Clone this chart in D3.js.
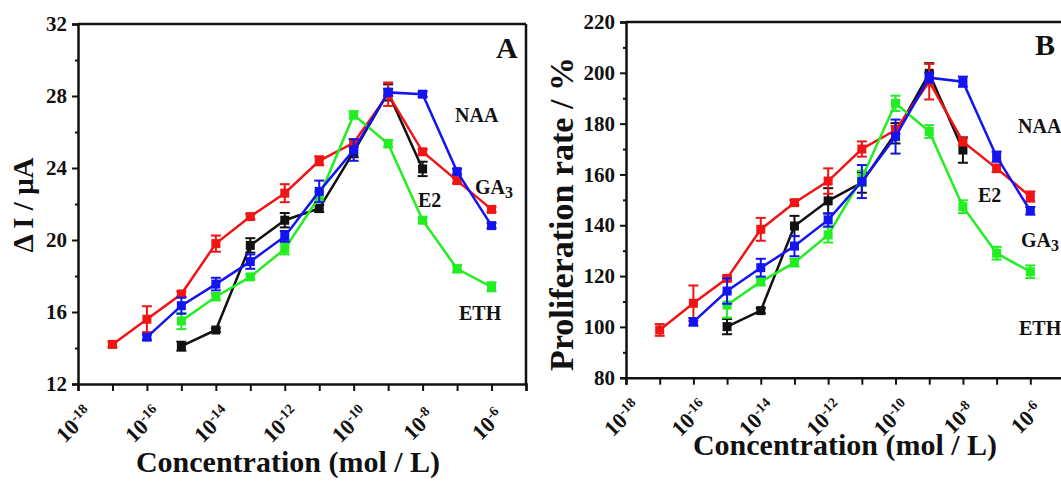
<!DOCTYPE html>
<html>
<head>
<meta charset="utf-8">
<script src="https://cdn.jsdelivr.net/npm/d3@7"></script>
<style>
  body { margin: 0; background: #fff; }
  svg { display: block; }
  text { font-family: "Liberation Serif", "Times New Roman", serif; font-weight: bold; fill: #111; }
</style>
</head>
<body>
<div id="chart"></div>
<script>
// concentration exponents (mol / L) of the measured points
var exps = [-17, -16, -15, -14, -13, -12, -11, -10, -9, -8, -7, -6];
var tickExps = d3.range(-18, -4);
var seriesNames = ["E2", "GA3", "ETH", "NAA"];
var colors = {E2: "#111111", GA3: "#f01414", ETH: "#22ee22", NAA: "#1414f0"};

// panel A : delta I (uA)
var aE2   = [null, null, 14.1, 15.0, 19.7, 21.1, 21.75, 24.9, 28.2, 23.95, null, null];
var aE2e  = [null, null, 0.25, 0.1, 0.4, 0.4, 0.2, 0.3, 0.45, 0.4, null, null];
var aGA3  = [14.2, 15.6, 17.0, 19.8, 21.3, 22.6, 24.4, 25.4, 28.1, 24.9, 23.3, 21.7];
var aGA3e = [0.15, 0.72, 0.15, 0.45, 0.15, 0.5, 0.25, 0.2, 0.65, 0.15, 0.15, 0.15];
var aETH  = [null, null, 15.5, 16.85, 17.95, 19.5, 22.4, 26.95, 25.35, 21.1, 18.4, 17.4];
var aETHe = [null, null, 0.45, 0.2, 0.15, 0.3, 0.3, 0.2, 0.2, 0.15, 0.2, 0.25];
var aNAA  = [null, 14.6, 16.35, 17.55, 18.8, 20.2, 22.7, 25.0, 28.2, 28.1, 23.8, 20.8];
var aNAAe = [null, 0.15, 0.45, 0.35, 0.4, 0.3, 0.6, 0.6, 0.2, 0.15, 0.15, 0.15];

// panel B : proliferation rate (%)
var bE2   = [null, null, 100.1, 106.4, 139.7, 149.6, 156.8, 176.2, 199.8, 169.6, null, null];
var bE2e  = [null, null, 3, 1, 4, 5, 4, 4, 4, 5, null, null];
var bGA3  = [98.8, 109.3, 119.1, 138.4, 148.9, 157.4, 170.0, 177.5, 196.5, 172.9, 162.4, 151.3];
var bGA3e = [2.3, 7, 1, 4.5, 1, 5, 3, 1.5, 7, 1.5, 1.5, 2];
var bETH  = [null, null, 108.6, 117.8, 125.3, 136.2, 158.5, 188.0, 176.9, 147.3, 129.0, 121.7];
var bETHe = [null, null, 5, 1.5, 1.5, 3, 3, 3, 2.5, 2.5, 2.5, 2.5];
var bNAA  = [null, 102.0, 114.1, 123.3, 131.8, 142.1, 157.2, 174.9, 198.1, 196.5, 167.0, 145.7];
var bNAAe = [null, 1.5, 5, 3.5, 4, 2.6, 6.5, 6.7, 2, 2, 2, 1.5];

var svg = d3.select("#chart").append("svg")
    .attr("width", 1061)
    .attr("height", 481);

function drawPanel(p) {
  var g = svg.append("g");
  var x = d3.scaleLog().domain([1e-18, 1e-5]).range([p.left, p.right]);
  var y = d3.scaleLinear().domain(p.yDomain).range([p.bottom, p.top]);

  // frame
  g.append("line").attr("x1", p.left).attr("x2", p.right).attr("y1", p.top).attr("y2", p.top)
    .attr("stroke", "#111").attr("stroke-width", 2.5);
  g.append("line").attr("x1", p.right).attr("x2", p.right).attr("y1", p.top).attr("y2", p.bottom)
    .attr("stroke", "#111").attr("stroke-width", 2.5);

  // y axis: major + minor ticks
  var yAxis = g.append("g").attr("transform", "translate(" + p.left + ",0)")
    .call(d3.axisLeft(y).tickValues(p.yTicks).tickSize(6).tickPadding(5));
  g.append("g").attr("transform", "translate(" + p.left + ",0)")
    .call(d3.axisLeft(y).tickValues(p.yMinor).tickSize(3).tickFormat(""))
    .select(".domain").remove();
  yAxis.selectAll("text").style("font-size", "21px").style("font-family", "Liberation Serif").attr("fill", "#111");

  // x axis
  var xAxis = g.append("g").attr("transform", "translate(0," + p.bottom + ")")
    .call(d3.axisBottom(x).tickValues(tickExps.map(e => Math.pow(10, e))).tickSize(7).tickFormat(""));
  g.selectAll(".domain").attr("stroke-width", 2.5).attr("stroke", "#111");
  g.selectAll(".tick line").attr("stroke-width", 2).attr("stroke", "#111");

  tickExps.filter(e => e % 2 === 0).forEach(function(e) {
    var t = g.append("text")
      .attr("text-anchor", "middle")
      .attr("dy", "0.35em")
      .attr("transform", "translate(" + (x(Math.pow(10, e)) - 4) + "," + (p.bottom + 40) + ") rotate(-45)")
      .style("font-size", "22px");
    t.append("tspan").text("10");
    t.append("tspan").attr("dy", "-0.55em").style("font-size", "14px").text("" + e);
  });

  // axis titles
  g.append("text")
    .attr("text-anchor", "middle")
    .attr("transform", "translate(" + p.yTitleX + "," + p.yTitleY + ") rotate(-90)")
    .style("font-size", p.yTitleSize + "px")
    .text(p.yTitle);
  g.append("text")
    .attr("text-anchor", "middle")
    .attr("x", p.xTitleX).attr("y", p.xTitleY)
    .style("font-size", "30px")
    .text("Concentration (mol / L)");

  // series
  var line = d3.line()
    .defined(d => d.v !== null)
    .x(d => x(Math.pow(10, d.e)))
    .y(d => y(d.v));

  seriesNames.forEach(function(name) {
    var pts = exps.map((e, i) => ({e: e, v: p.values[name][i], err: p.errors[name][i]}));
    var c = colors[name];
    var sg = g.append("g");
    sg.append("path").datum(pts.filter(d => d.v !== null))
      .attr("d", line).attr("fill", "none").attr("stroke", c).attr("stroke-width", 2.5);
    var pp = pts.filter(d => d.v !== null);
    pp.forEach(function(d) {
      var cx = x(Math.pow(10, d.e));
      var y1 = y(d.v + d.err), y2 = y(d.v - d.err);
      sg.append("line").attr("x1", cx).attr("x2", cx).attr("y1", y1).attr("y2", y2)
        .attr("stroke", c).attr("stroke-width", 2);
      [y1, y2].forEach(function(yy) {
        sg.append("line").attr("x1", cx - 5).attr("x2", cx + 5).attr("y1", yy).attr("y2", yy)
          .attr("stroke", c).attr("stroke-width", 2);
      });
      sg.append("rect").attr("x", cx - 4.5).attr("y", y(d.v) - 4.5)
        .attr("width", 9).attr("height", 9).attr("fill", c);
    });
  });

  // labels
  p.labels.forEach(function(l) {
    var t = g.append("text").attr("x", l.x).attr("y", l.y).style("font-size", l.size + "px");
    if (l.sub) {
      t.append("tspan").text(l.text);
      t.append("tspan").attr("dy", "0.25em").style("font-size", (l.size * 0.8) + "px").text(l.sub);
    } else {
      t.text(l.text);
    }
  });
}

drawPanel({
  left: 78, right: 526, top: 24, bottom: 384,
  yDomain: [12, 32], yTicks: [12, 16, 20, 24, 28, 32], yMinor: [14, 18, 22, 26, 30],
  values: {E2: aE2, GA3: aGA3, ETH: aETH, NAA: aNAA},
  errors: {E2: aE2e, GA3: aGA3e, ETH: aETHe, NAA: aNAAe},
  yTitle: "\u0394 I / \u03bcA", yTitleX: 33, yTitleY: 205, yTitleSize: 29,
  xTitleX: 288, xTitleY: 472,
  labels: [
    {text: "A", x: 496, y: 58, size: 30},
    {text: "NAA", x: 455, y: 122, size: 20},
    {text: "GA", sub: "3", x: 475, y: 194, size: 20},
    {text: "E2", x: 418, y: 207, size: 20},
    {text: "ETH", x: 459, y: 320, size: 20}
  ]
});

drawPanel({
  left: 626, right: 1064, top: 22, bottom: 377.7,
  yDomain: [80, 220], yTicks: [80, 100, 120, 140, 160, 180, 200, 220], yMinor: [90, 110, 130, 150, 170, 190, 210],
  values: {E2: bE2, GA3: bGA3, ETH: bETH, NAA: bNAA},
  errors: {E2: bE2e, GA3: bGA3e, ETH: bETHe, NAA: bNAAe},
  yTitle: "Proliferation rate / %", yTitleX: 573, yTitleY: 214, yTitleSize: 34,
  xTitleX: 845, xTitleY: 455,
  labels: [
    {text: "B", x: 1035, y: 55, size: 30},
    {text: "NAA", x: 1018, y: 133, size: 20},
    {text: "E2", x: 978, y: 202, size: 20},
    {text: "GA", sub: "3", x: 1021, y: 247, size: 20},
    {text: "ETH", x: 1019, y: 335, size: 20}
  ]
});
</script>
</body>
</html>
